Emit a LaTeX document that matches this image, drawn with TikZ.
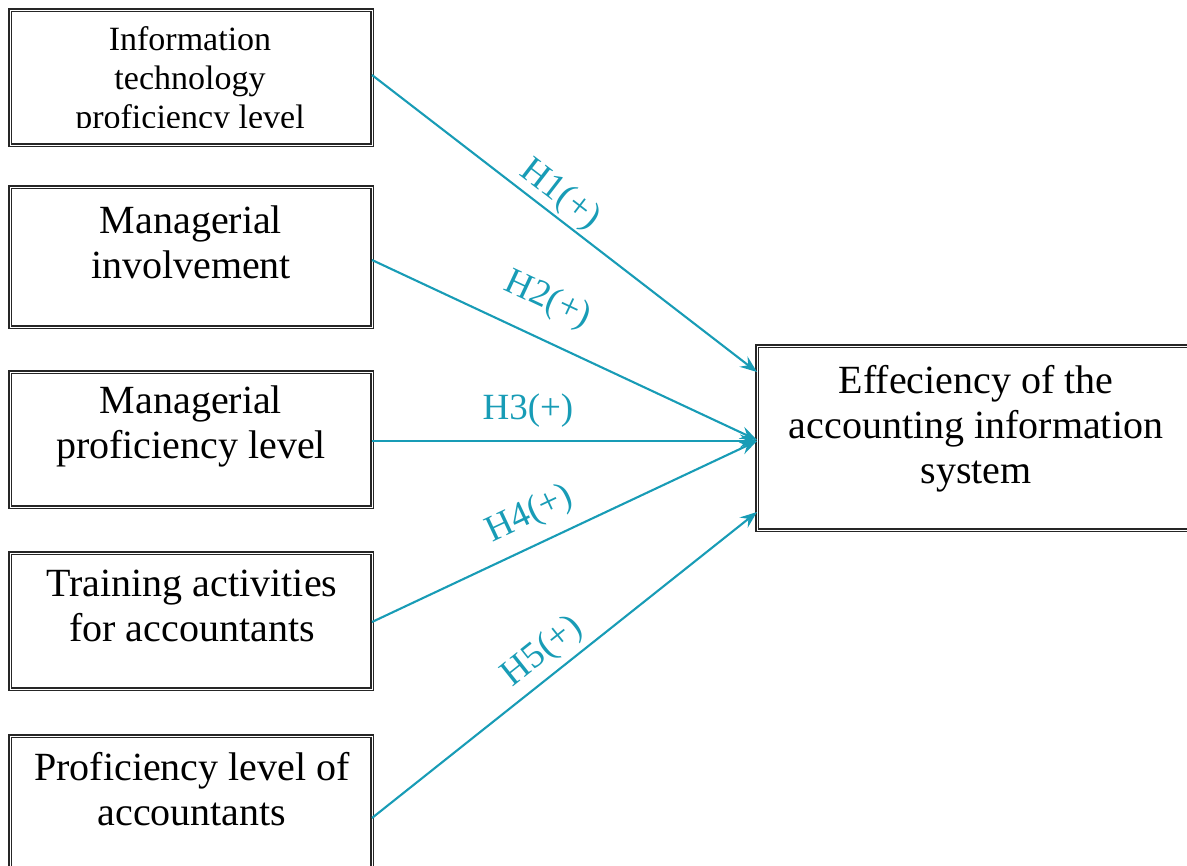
\documentclass[tikz,border=0pt]{standalone}
\usepackage{fontspec}
\setmainfont{Liberation Serif}
\usetikzlibrary{arrows.meta}
\definecolor{teal1}{RGB}{24,156,182}
\begin{document}
\begin{tikzpicture}[x=1pt,y=-1pt,
  boxst/.style={draw=black!85, line width=1.5pt, double=white, double distance=0.9pt, fill=white, inner sep=0pt},
  txt/.style={align=center, inner sep=0pt, font=\fontsize{40}{45}\selectfont},
  arr/.style={draw=teal1, line width=2.1pt, -{Stealth[length=17pt,width=13pt,inset=6pt]}},
  lab/.style={text=teal1, inner sep=0pt, sloped, font=\fontsize{37}{40}\selectfont}]
\useasboundingbox (0,0) rectangle (1187,866);
\clip (0,0) rectangle (1187,866);
% boxes
\node[boxst, minimum width=362pt, minimum height=135pt] (b1) at (191,77.5) {};
\node[boxst, minimum width=362pt, minimum height=140pt] (b2) at (191,257) {};
\node[boxst, minimum width=362pt, minimum height=135pt] (b3) at (191,439.5) {};
\node[boxst, minimum width=362pt, minimum height=136pt] (b4) at (191,621) {};
\node[boxst, minimum width=362pt, minimum height=150pt] (b5) at (191,811) {};
\node[boxst, minimum width=440pt, minimum height=184pt] (eff) at (977,438) {};
% texts
\begin{scope}
\clip (14,14) rectangle (368,128);
\node[txt, font=\fontsize{34}{39}\selectfont, anchor=north] (t1) at (190,26) {Information\\technology\\proficiency level};
\end{scope}
\node[txt, anchor=north] (t2) at (191,206) {Managerial\\involvement};
\node[txt, anchor=north] (t3) at (191,386) {Managerial\\proficiency level};
\node[txt, anchor=north] (t4) at (192,570) {Training activities\\for accountants};
\node[txt, anchor=north] (t5) at (192,752) {Proficiency level of\\accountants};
\node[txt, anchor=north] (t6) at (976,365) {Effeciency of the\\accounting information\\system};
% anchor coordinates
\coordinate (s1) at (372,75);
\coordinate (s2) at (372,260);
\coordinate (s3) at (372,441);
\coordinate (s4) at (372,622);
\coordinate (s5) at (372,818);
\coordinate (e1) at (757,372);
\coordinate (e2) at (757,440);
\coordinate (e3) at (757,441);
\coordinate (e4) at (757,441);
\coordinate (e5) at (757,512);
% arrows
\draw[arr] (s1) -- node[lab, pos=0.457, above=2pt] {H1(+)} (e1);
\draw[arr] (s2) -- node[lab, pos=0.415, above=20pt] {H2(+)} (e2);
\draw[arr] (s3) -- node[lab, pos=0.405, above=13pt] {H3(+)} (e3);
\draw[arr] (s4) -- node[lab, pos=0.443, above=12pt] {H4(+)} (e4);
\draw[arr] (s5) -- node[lab, pos=0.482, above=6pt] {H5(+)} (e5);
\end{tikzpicture}
\end{document}
